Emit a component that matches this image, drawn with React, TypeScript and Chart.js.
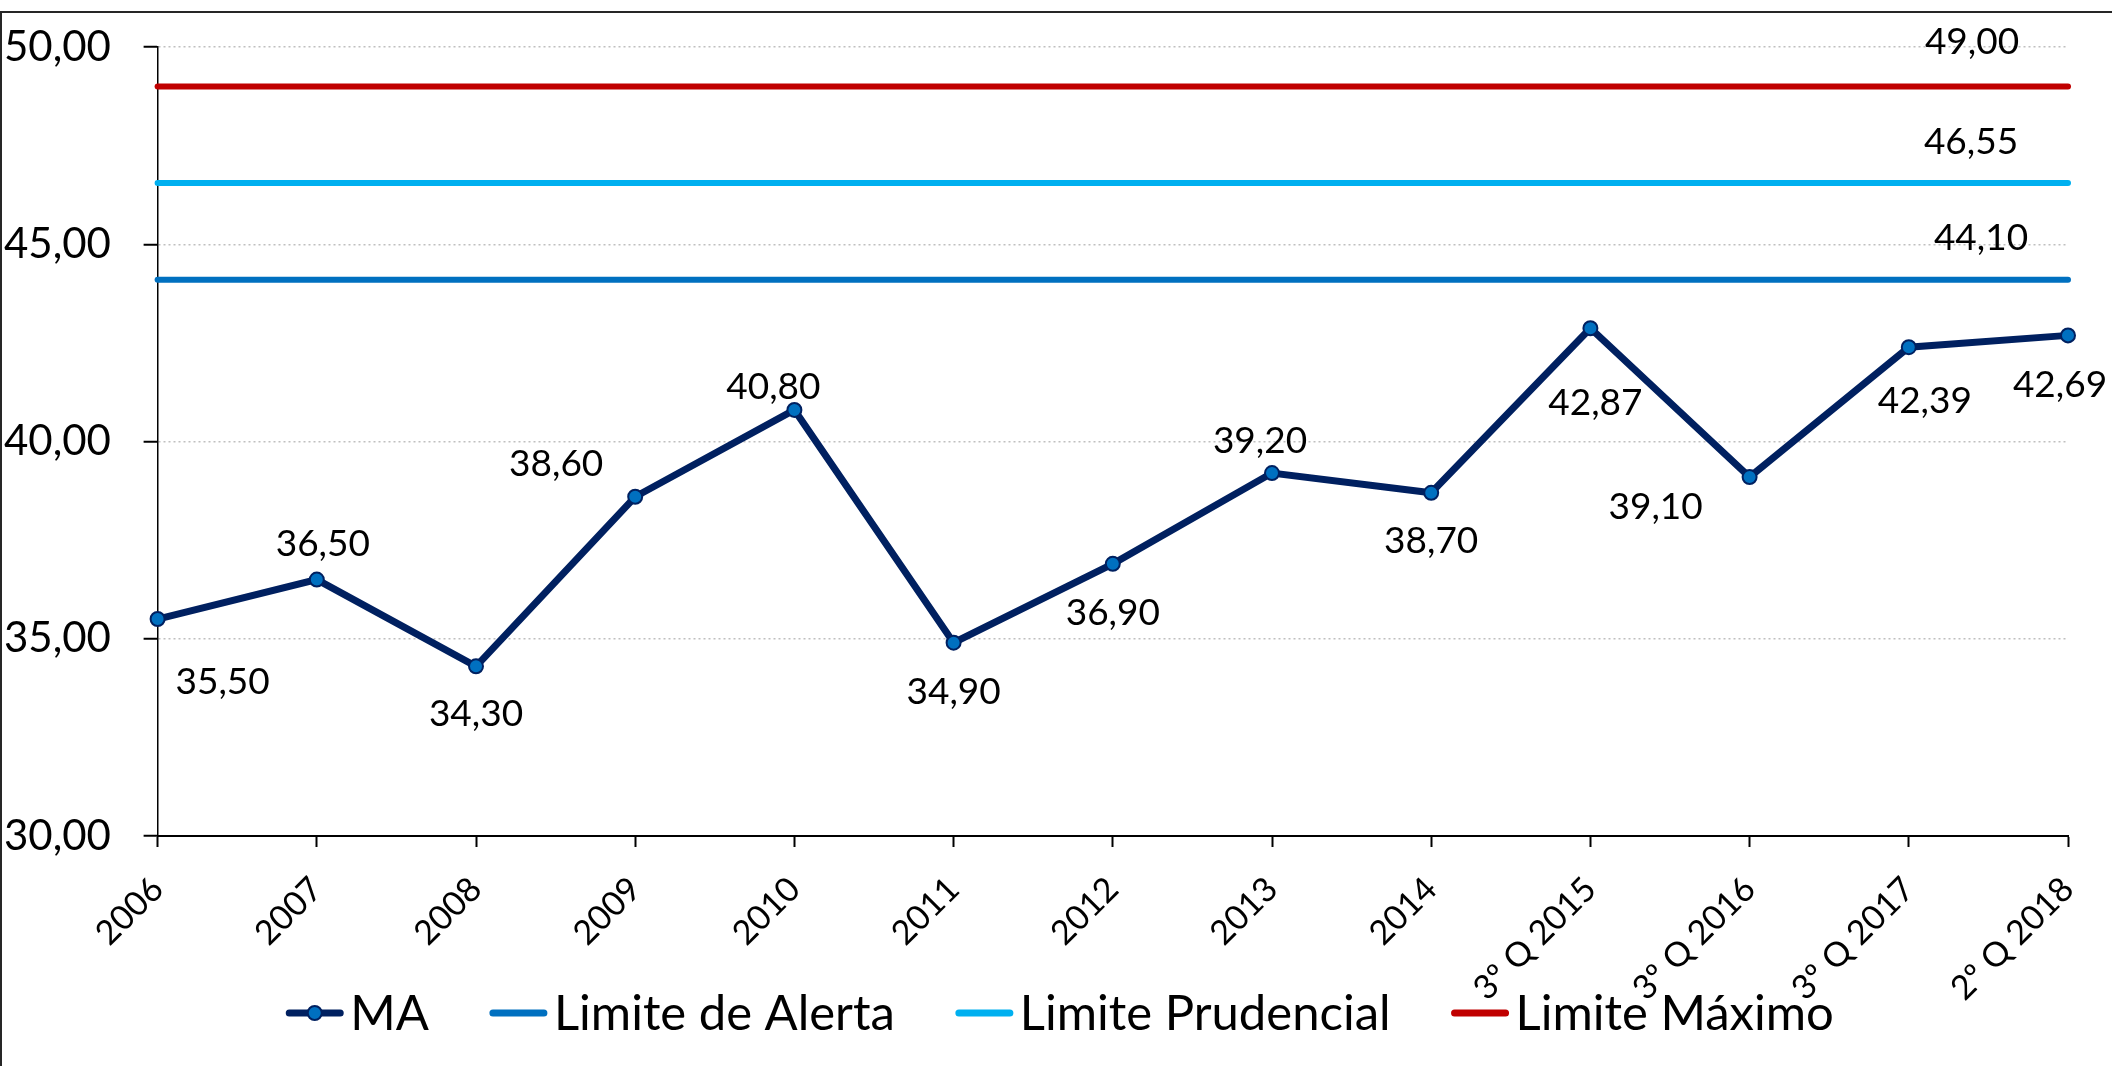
import React, { useEffect, useRef } from 'react';
import { Chart, registerables } from 'chart.js';

Chart.register(...registerables);

// ---------- data ----------
const categories = ['2006', '2007', '2008', '2009', '2010', '2011', '2012', '2013', '2014', '3º Q 2015', '3º Q 2016', '3º Q 2017', '2º Q 2018'];
const maValues = [35.5, 36.5, 34.3, 38.6, 40.8, 34.9, 36.9, 39.2, 38.7, 42.87, 39.1, 42.39, 42.69];
const limiteAlerta = [44.1, 44.1, 44.1, 44.1, 44.1, 44.1, 44.1, 44.1, 44.1, 44.1, 44.1, 44.1, 44.1];
const limitePrudencial = [46.55, 46.55, 46.55, 46.55, 46.55, 46.55, 46.55, 46.55, 46.55, 46.55, 46.55, 46.55, 46.55];
const limiteMaximo = [49, 49, 49, 49, 49, 49, 49, 49, 49, 49, 49, 49, 49];
const yTickValues = [30, 35, 40, 45, 50];
const seriesNames = ['MA', 'Limite de Alerta', 'Limite Prudencial', 'Limite Máximo'];

// ---------- label placement (pixel offsets from the point, style only) ----------
const maLabelOffsets: [number, number][] = [
  [65, 62], [6, -37], [0, 47], [-79, -34], [-21, -24], [0, 48], [0, 48],
  [-12, -33], [0, 47], [5, 74], [-94, 29], [16, 53], [-8, 49],
];
const limitLabelOffsets: [number, number][] = [[-87, -43], [-97, -42], [-96, -45]];

const FONT = 'Lato';
const fmt = (v: number) => Number(v).toFixed(2).replace('.', ',');

const framePlugin = {
  id: 'frame',
  beforeDraw(chart: any) {
    const ctx = chart.ctx;
    ctx.save();
    ctx.fillStyle = '#ffffff';
    ctx.fillRect(0, 0, chart.width, chart.height);
    ctx.strokeStyle = '#262626';
    ctx.lineWidth = 2;
    ctx.beginPath();
    ctx.moveTo(1, chart.height);
    ctx.lineTo(1, 12);
    ctx.lineTo(chart.width, 12);
    ctx.stroke();
    ctx.restore();
  },
};

const valueLabelsPlugin = {
  id: 'valueLabels',
  afterDatasetsDraw(chart: any) {
    const ctx = chart.ctx;
    ctx.save();
    ctx.font = `37px ${FONT}`;
    ctx.fillStyle = '#000000';
    ctx.textAlign = 'center';
    ctx.textBaseline = 'alphabetic';
    const capHalf = 13;
    const meta0 = chart.getDatasetMeta(0);
    meta0.data.forEach((pt: any, i: number) => {
      const [dx, dy] = maLabelOffsets[i];
      ctx.fillText(fmt(chart.data.datasets[0].data[i]), pt.x + dx, pt.y + dy + capHalf);
    });
    [1, 2, 3].forEach((di, k) => {
      const meta = chart.getDatasetMeta(di);
      const idx = meta.data.length - 1;
      const pt = meta.data[idx];
      const [dx, dy] = limitLabelOffsets[k];
      ctx.fillText(fmt(chart.data.datasets[di].data[idx]), pt.x + dx, pt.y + dy + capHalf);
    });
    ctx.restore();
  },
};

const legendPlugin = {
  id: 'customLegend',
  afterDraw(chart: any) {
    const ctx = chart.ctx;
    ctx.save();
    ctx.font = `49px ${FONT}`;
    const ds = chart.data.datasets;
    const lineLen = 57;
    const gapText = 7;
    const gapItem = 61;
    const widths = ds.map((d: any) => lineLen + gapText + ctx.measureText(d.label).width);
    const total = widths.reduce((a: number, b: number) => a + b, 0) + gapItem * (ds.length - 1);
    let x = chart.width / 2 + 4 - total / 2;
    const yLine = 1013;
    const yText = 1030;
    ds.forEach((d: any, i: number) => {
      ctx.strokeStyle = d.borderColor;
      ctx.lineWidth = 7;
      ctx.lineCap = 'round';
      ctx.beginPath();
      ctx.moveTo(x + 3, yLine);
      ctx.lineTo(x + lineLen - 3, yLine);
      ctx.stroke();
      if (d.pointRadius > 0) {
        ctx.beginPath();
        ctx.arc(x + lineLen / 2, yLine, d.pointRadius, 0, Math.PI * 2);
        ctx.fillStyle = d.pointBackgroundColor;
        ctx.fill();
        ctx.lineWidth = d.pointBorderWidth;
        ctx.strokeStyle = d.pointBorderColor;
        ctx.stroke();
      }
      ctx.fillStyle = '#000000';
      ctx.textAlign = 'left';
      ctx.textBaseline = 'alphabetic';
      ctx.fillText(d.label, x + lineLen + gapText, yText);
      x += widths[i] + gapItem;
    });
    ctx.restore();
  },
};

export default function App() {
  const canvasRef = useRef<HTMLCanvasElement | null>(null);

  useEffect(() => {
    if (!canvasRef.current) return;
    const chart = new Chart(canvasRef.current, {
      type: 'line',
      data: {
        labels: categories,
        datasets: [
          {
            label: seriesNames[0],
            data: maValues,
            borderColor: '#002060',
            borderWidth: 7,
            pointRadius: 7,
            pointBackgroundColor: '#0070C0',
            pointBorderColor: '#002060',
            pointBorderWidth: 2,
            tension: 0,
            clip: false,
            order: 0,
          },
          {
            label: seriesNames[1],
            data: limiteAlerta,
            borderColor: '#0070C0',
            borderWidth: 6,
            pointRadius: 0,
            borderCapStyle: 'round',
            clip: false,
            order: 1,
          },
          {
            label: seriesNames[2],
            data: limitePrudencial,
            borderColor: '#00B0F0',
            borderWidth: 6,
            pointRadius: 0,
            borderCapStyle: 'round',
            clip: false,
            order: 2,
          },
          {
            label: seriesNames[3],
            data: limiteMaximo,
            borderColor: '#C00000',
            borderWidth: 6,
            pointRadius: 0,
            borderCapStyle: 'round',
            clip: false,
            order: 3,
          },
        ] as any,
      },
      options: {
        animation: false,
        responsive: false,
        devicePixelRatio: 1,
        layout: { padding: { left: 4, top: 47, right: 44, bottom: 0 } },
        plugins: {
          legend: { display: false },
          tooltip: { enabled: false },
        },
        scales: {
          x: {
            type: 'category',
            offset: false,
            grid: {
              display: true,
              drawOnChartArea: false,
              drawTicks: true,
              tickLength: 11,
              tickColor: '#000000',
              tickWidth: 2,
            },
            border: { display: true, color: '#000000', width: 2 },
            ticks: {
              color: '#000000',
              font: { family: FONT, size: 34 },
              minRotation: 45,
              maxRotation: 45,
              autoSkip: false,
              padding: 22,
            },
            afterFit: (s: any) => {
              s.height = 230;
              s.paddingLeft = 0;
              s.paddingRight = 0;
            },
          },
          y: {
            min: 30,
            max: 50,
            afterBuildTicks: (s: any) => {
              s.ticks = yTickValues.map((v) => ({ value: v }));
            },
            grid: {
              color: '#bfbfbf',
              lineWidth: 1.5,
              tickLength: 14,
              tickColor: '#000000',
              tickWidth: 2,
              tickBorderDash: [],
            },
            border: { display: true, color: '#000000', width: 1.5, dash: [2, 3] },
            ticks: {
              color: '#000000',
              font: { family: FONT, size: 42 },
              padding: 2,
              crossAlign: 'far',
              callback: (v: any) => fmt(Number(v)),
            },
            afterFit: (s: any) => {
              s.width = 153.6;
            },
          },
        },
      } as any,
      plugins: [framePlugin, valueLabelsPlugin, legendPlugin],
    });
    return () => chart.destroy();
  }, []);

  return (
    <div style={{ position: 'fixed', left: 0, top: 0, width: 2112, height: 1066, background: '#ffffff' }}>
      <canvas ref={canvasRef} width={2112} height={1066} style={{ display: 'block' }} />
    </div>
  );
}
